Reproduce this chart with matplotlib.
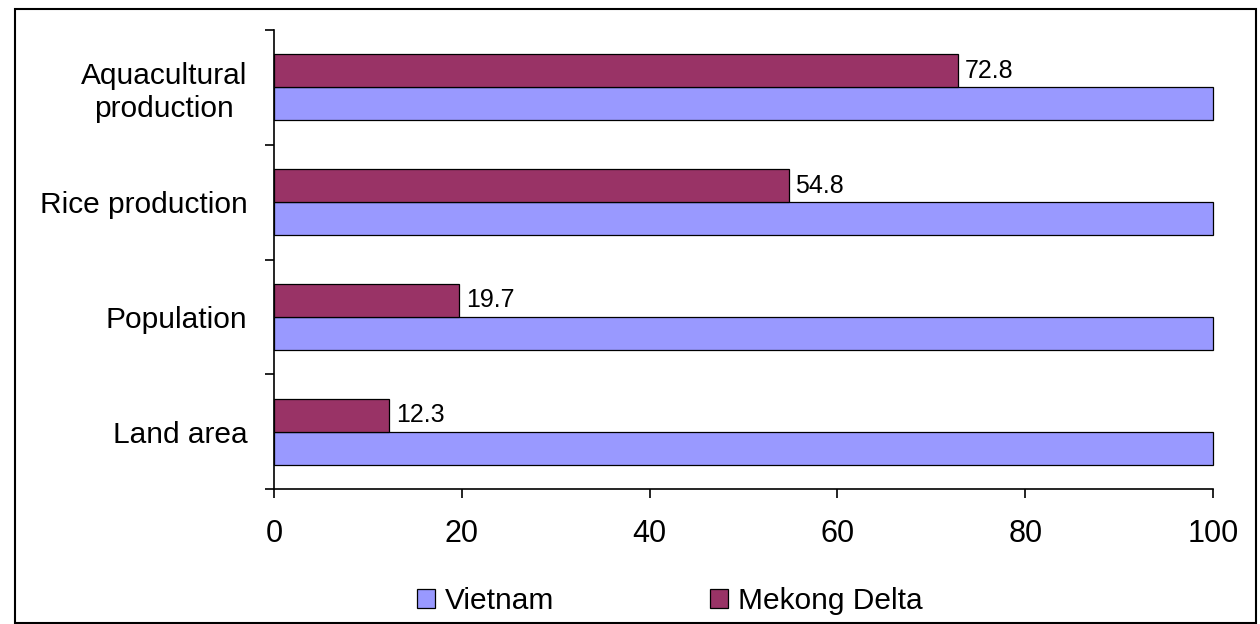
import numpy as np
import matplotlib
matplotlib.use('Agg')
import matplotlib.pyplot as plt
from matplotlib.patches import Rectangle

plt.rcParams['font.family'] = ['Liberation Sans', 'DejaVu Sans']

# Data (bottom to top)
categories = ['Land area', 'Population', 'Rice production', 'Aquacultural\nproduction']
vietnam = [100, 100, 100, 100]
mekong = [12.3, 19.7, 54.8, 72.8]

col_vn = '#9999FF'
col_md = '#993366'

fig = plt.figure(figsize=(12.6, 6.24), dpi=100)
ax = fig.add_axes([274/1260, 1-489/624, (1213-274)/1260, (489-30)/624])

y = np.arange(len(categories))
h = 0.288
ax.barh(y - h/2, vietnam, height=h, color=col_vn, edgecolor='black', linewidth=0.9,
        label='Vietnam', clip_on=False)
bars_md = ax.barh(y + h/2, mekong, height=h, color=col_md, edgecolor='black', linewidth=0.9,
                  label='Mekong Delta', clip_on=False)

# Value labels on Mekong Delta bars
for b, v in zip(bars_md, mekong):
    ax.annotate(f'{v}', xy=(b.get_width(), b.get_y() + b.get_height()/2),
                xytext=(5, 0), textcoords='offset points',
                va='center', ha='left', fontsize=18)

ax.set_xlim(0, 100)
ax.set_ylim(-0.5, len(categories) - 0.5)
ax.set_xticks([0, 20, 40, 60, 80, 100])
ax.tick_params(axis='x', labelsize=22, length=6.5, width=1.2, pad=15, direction='out')

# y ticks at category boundaries, labels at centres
ax.set_yticks(np.arange(-0.5, len(categories)), minor=False)
ax.set_yticklabels([])
ax.set_yticks(y, minor=True)
ax.set_yticklabels(categories, minor=True, fontsize=21.5, ha='right', multialignment='center')
ax.tick_params(axis='y', which='major', length=6.5, width=1.2, direction='out')
ax.tick_params(axis='y', which='minor', length=0, pad=19)

for s in ['top', 'right']:
    ax.spines[s].set_visible(False)
for s in ['left', 'bottom']:
    ax.spines[s].set_linewidth(1.2)

handles, labels = ax.get_legend_handles_labels()
fig.legend(handles, labels, loc='center', bbox_to_anchor=(670/1260, 1-601/624),
           ncol=2, frameon=False, fontsize=21.5, handlelength=0.6, handleheight=0.6,
           handletextpad=0.35, columnspacing=5.2)

# Outer border
fig.patches.append(Rectangle((15/1260, 1/624), 1241/1260, 614/624, transform=fig.transFigure,
                             fill=False, edgecolor='black', linewidth=1.5))

fig.savefig('out.png', dpi=100)
